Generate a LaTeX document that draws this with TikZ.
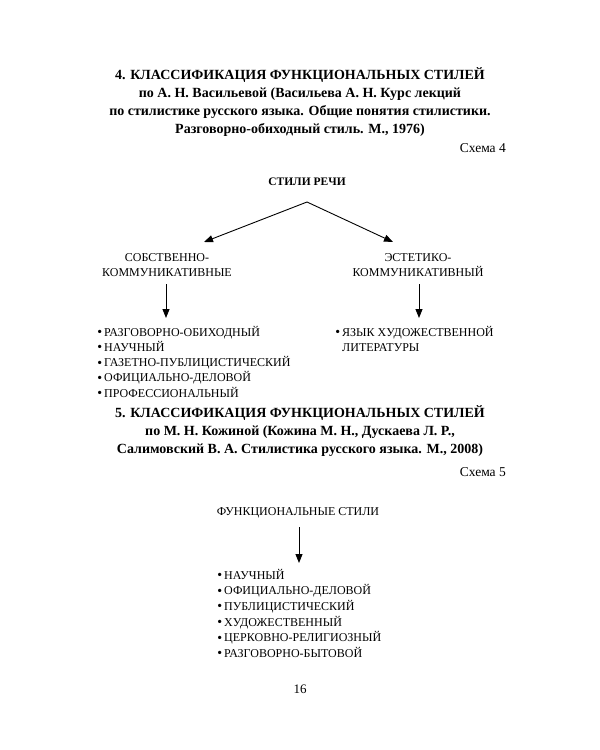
\documentclass[tikz,border=0pt]{standalone}
\usepackage{fontspec}
\setmainfont{Liberation Serif}
\usetikzlibrary{arrows.meta}
\newcommand{\bul}{\llap{\raisebox{-0.05ex}{\scalebox{1.15}{•}}\hspace{2pt}}}
\begin{document}
\begin{tikzpicture}[x=1pt,y=-1pt,
  ttl/.style={font=\fontsize{14}{18}\selectfont\bfseries, align=center, inner sep=0pt},
  sch/.style={font=\fontsize{13.5}{16}\selectfont, anchor=east, inner sep=0pt},
  hd/.style={font=\fontsize{12}{14.5}\selectfont, align=center, inner sep=0pt},
  item/.style={font=\fontsize{12}{15.2}\selectfont, align=left, anchor=north west, inner sep=0pt},
  arr/.style={-{Triangle[length=9pt,width=7pt]}, line width=0.9pt}]
\useasboundingbox (0,0) rectangle (600,750);
\node[ttl] (t4) at (300,102) {4. КЛАССИФИКАЦИЯ ФУНКЦИОНАЛЬНЫХ СТИЛЕЙ\\по А. Н. Васильевой (Васильева А. Н. Курс лекций\\по стилистике русского языка. Общие понятия стилистики.\\Разговорно-обиходный стиль. М., 1976)};
\node[sch] (s4) at (506,148) {Схема 4};
\node[font=\fontsize{11.5}{14}\selectfont\bfseries, inner sep=0pt] (root) at (307,182) {СТИЛИ РЕЧИ};
\coordinate (apex) at (307,202);
\node[hd] (left) at (167,265) {СОБСТВЕННО-\\КОММУНИКАТИВНЫЕ};
\node[hd] (right) at (418,265) {ЭСТЕТИКО-\\КОММУНИКАТИВНЫЙ};
\coordinate (la) at (204,242);
\coordinate (ra) at (393,242);
\draw[arr] (apex) -- (la);
\draw[arr] (apex) -- (ra);
\node[item] (ll) at (104,326) {\bul РАЗГОВОРНО-ОБИХОДНЫЙ\\\bul НАУЧНЫЙ\\\bul ГАЗЕТНО-ПУБЛИЦИСТИЧЕСКИЙ\\\bul ОФИЦИАЛЬНО-ДЕЛОВОЙ\\\bul ПРОФЕССИОНАЛЬНЫЙ};
\node[item] (rl) at (342,326) {\bul ЯЗЫК ХУДОЖЕСТВЕННОЙ\\ЛИТЕРАТУРЫ};
\draw[arr] (166,284) -- (166,318);
\draw[arr] (419,284) -- (419,318);
\node[ttl] (t5) at (300,431) {5. КЛАССИФИКАЦИЯ ФУНКЦИОНАЛЬНЫХ СТИЛЕЙ\\по М. Н. Кожиной (Кожина М. Н., Дускаева Л. Р.,\\Салимовский В. А. Стилистика русского языка. М., 2008)};
\node[sch] (s5) at (506,472) {Схема 5};
\node[hd] (fs) at (298,513) {ФУНКЦИОНАЛЬНЫЕ СТИЛИ};
\node[item, font=\fontsize{12}{15.6}\selectfont] (fl) at (224,569) {\bul НАУЧНЫЙ\\\bul ОФИЦИАЛЬНО-ДЕЛОВОЙ\\\bul ПУБЛИЦИСТИЧЕСКИЙ\\\bul ХУДОЖЕСТВЕННЫЙ\\\bul ЦЕРКОВНО-РЕЛИГИОЗНЫЙ\\\bul РАЗГОВОРНО-БЫТОВОЙ};
\draw[arr] (299,527) -- (299,563);
\node[font=\fontsize{13}{15}\selectfont, inner sep=0pt] (pg) at (300,689) {16};
\end{tikzpicture}
\end{document}
